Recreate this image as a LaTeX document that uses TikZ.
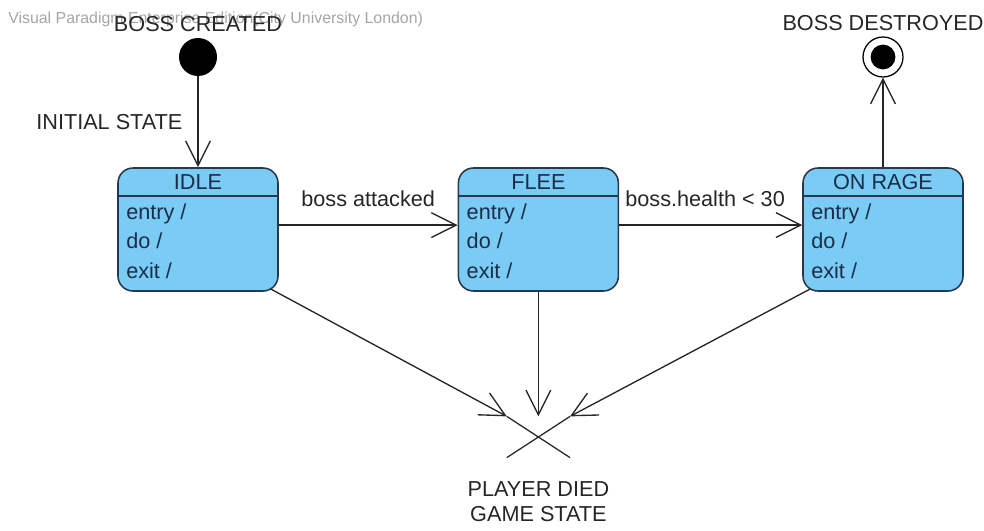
\documentclass[tikz,border=0pt]{standalone}
\usepackage{fontspec}
\setmainfont{Liberation Sans}
\usetikzlibrary{arrows.meta,positioning,calc,shapes.misc,backgrounds}

\definecolor{statefill}{RGB}{122,204,244}
\definecolor{stateline}{RGB}{40,55,75}
\definecolor{stxt}{RGB}{25,45,75}
\definecolor{wmark}{RGB}{165,165,165}

\begin{document}
\begin{tikzpicture}[
  initial/.style={circle, fill=black, minimum size=0.95cm, inner sep=0pt},
  final/.style={circle, draw, line width=0.9pt, minimum size=1cm, inner sep=0pt,
    path picture={\fill[black] (path picture bounding box.center) circle (0.31cm);}},
  statebox/.style={rectangle, draw=stateline, fill=statefill, line width=1.1pt,
    rounded corners=0.375cm, minimum width=4cm, minimum height=3.075cm},
  statetxt/.style={text=stxt, font=\fontsize{15.4}{21}\selectfont, inner sep=0pt},
  term/.style={cross out, draw=black!85, line width=0.9pt, minimum width=1.55cm,
    minimum height=1cm, inner sep=0pt},
  lbl/.style={font=\fontsize{15.4}{17.7}\selectfont, text=black!85, inner sep=0pt},
  arr/.style={-{Straight Barb[length=0.62cm,width=0.62cm]}, line width=0.95pt, draw=black!85}
]
\useasboundingbox (0,0) rectangle (24.6,-13.25);

\node[anchor=west, text=wmark, font=\fontsize{11.3}{13}\selectfont, inner sep=0pt]
  (wm) at (0.2,-0.475) {Visual Paradigm Enterprise Edition(City University London)};

% states
\node[initial] (init) at (4.95,-1.425) {};
\node[lbl, above=0.15cm of init] (created) {BOSS CREATED};
\foreach \s/\t/\x in {idle/IDLE/4.95, flee/FLEE/13.46, rage/ON RAGE/22.075} {
  \node[statebox] (\s) at (\x,-5.7375) {};
  \draw[draw=stateline, line width=1.1pt] ($(\s.north west)+(0,-0.725)$) -- ($(\s.north east)+(0,-0.725)$);
  \node[statetxt] at ($(\s.north)+(0,-0.36)$) {\t};
  \node[statetxt, anchor=north west, align=left] at ($(\s.north west)+(0.22,-0.9)$) {entry /\\do /\\exit /};
}
\node[final] (final) at (22.075,-1.425) {};
\node[lbl, above=0.125cm of final] (destroyed) {BOSS DESTROYED};
\node[term] (term) at (13.46,-10.925) {};
\node[lbl, below=0.6cm of term, align=center] (died) {PLAYER DIED\\GAME STATE};

% transitions
\draw[arr] (init) -- node[lbl, midway, left=0.375cm] {INITIAL STATE} (idle);
\draw[arr] ([yshift=0.11cm]idle.east) -- node[lbl, above=0.45cm] {boss attacked} ([yshift=0.11cm]flee.west);
\draw[arr] ([yshift=0.11cm]flee.east) -- node[lbl, above=0.45cm, xshift=-0.14cm] {boss.health < 30} ([yshift=0.11cm]rage.west);
\draw[arr] (rage) -- (final);
\draw[arr] (flee) -- (term.north);
\begin{scope}[on background layer]
  \draw[arr] ($(idle.south east)+(-0.35,0.15)$) -- (term.north west);
  \draw[arr] ($(rage.south west)+(0.35,0.15)$) -- (term.north east);
\end{scope}

\end{tikzpicture}
\end{document}
